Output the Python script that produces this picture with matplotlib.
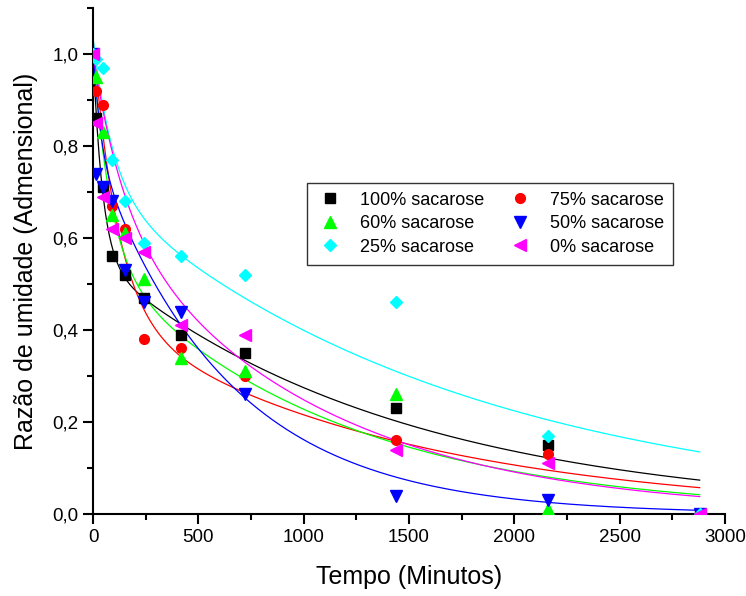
import numpy as np
import matplotlib
matplotlib.use('Agg')
import matplotlib.pyplot as plt
from matplotlib.ticker import MultipleLocator, FuncFormatter

plt.rcParams['font.family'] = ['Liberation Sans', 'DejaVu Sans']

# tempo de secagem (minutos)
tempo = [0, 15, 45, 90, 150, 240, 420, 720, 1440, 2160, 2880]

# razao de umidade
mr_100 = [1.00, 0.86, 0.71, 0.56, 0.52, 0.47, 0.39, 0.35, 0.23, 0.15, 0.00]
mr_75 = [1.00, 0.92, 0.89, 0.67, 0.62, 0.38, 0.36, 0.30, 0.16, 0.13, 0.00]
mr_60 = [1.00, 0.95, 0.83, 0.65, 0.61, 0.51, 0.34, 0.31, 0.26, 0.01, 0.00]
mr_50 = [1.00, 0.74, 0.71, 0.68, 0.53, 0.46, 0.44, 0.26, 0.04, 0.03, 0.00]
mr_25 = [1.00, 0.99, 0.97, 0.77, 0.68, 0.59, 0.56, 0.52, 0.46, 0.17, 0.00]
mr_0 = [1.00, 0.85, 0.69, 0.62, 0.60, 0.57, 0.41, 0.39, 0.14, 0.11, 0.00]

labels = ['100% sacarose', '75% sacarose', '60% sacarose',
          '50% sacarose', '25% sacarose', '0% sacarose']
cores = ['black', '#ff0000', '#00ff00', '#0000ff', '#00ffff', '#ff00ff']
marcadores = ['s', 'o', '^', 'v', 'D', '<']

# parametros do ajuste (dois termos): MR = a*exp(-k t) + b*exp(-g t)
fit_a = [0.45, 0.60, 0.44, 0.22, 0.324, 0.326]
fit_k = [0.022, 0.0085, 0.012, 0.03, 0.0107, 0.007]
fit_b = [0.553, 0.436, 0.56, 0.80, 0.711, 0.674]
fit_g = [7.0e-4, 7.05e-4, 9.0e-4, 1.6e-3, 5.77e-4, 1.0e-3]

series = [mr_100, mr_75, mr_60, mr_50, mr_25, mr_0]

fig = plt.figure(figsize=(7.46, 5.96), dpi=100)
ax = fig.add_axes([0.1247, 0.1376, 0.8471, 0.849])

tt = np.linspace(0, 2880, 600)
handles = []
for i in range(6):
    curva = fit_a[i] * np.exp(-fit_k[i] * tt) + fit_b[i] * np.exp(-fit_g[i] * tt)
    ax.plot(tt, curva, color=cores[i], lw=0.9, zorder=2)
for i in range(6):
    ms = 7 if marcadores[i] in ('s', 'o') else 8
    if marcadores[i] == 'D':
        ms = 6.5
    h, = ax.plot(tempo, series[i], linestyle='none', marker=marcadores[i],
                 color=cores[i], ms=ms, zorder=3, label=labels[i])
    handles.append(h)

ax.set_xlim(0, 3000)
ax.set_ylim(0, 1.1)
ax.spines['top'].set_visible(False)
ax.spines['right'].set_visible(False)
ax.spines['left'].set_linewidth(1.5)
ax.spines['bottom'].set_linewidth(1.5)

ax.xaxis.set_major_locator(MultipleLocator(500))
ax.xaxis.set_minor_locator(MultipleLocator(250))
ax.yaxis.set_major_locator(MultipleLocator(0.2))
ax.yaxis.set_minor_locator(MultipleLocator(0.1))
ax.yaxis.set_major_formatter(FuncFormatter(lambda v, p: ('%.1f' % v).replace('.', ',')))
ax.tick_params(which='major', direction='out', length=7, width=1.5, labelsize=13.5)
ax.tick_params(which='minor', direction='out', length=4, width=1.5)

ax.set_xlabel('Tempo (Minutos)', fontsize=18, labelpad=14)
ax.set_ylabel('Razão de umidade (Admensional)', fontsize=18, labelpad=10)

ordem = [0, 2, 4, 1, 3, 5]
leg = ax.legend([handles[j] for j in ordem], [labels[j] for j in ordem],
                ncol=2, loc='upper left', bbox_to_anchor=(0.339, 0.655),
                borderaxespad=0, fontsize=13, frameon=True, fancybox=False,
                edgecolor='black', handletextpad=0.9, columnspacing=1.25,
                borderpad=0.5, labelspacing=0.36, handlelength=1.5)
leg.get_frame().set_linewidth(1.0)

fig.savefig('out.png', dpi=100)
